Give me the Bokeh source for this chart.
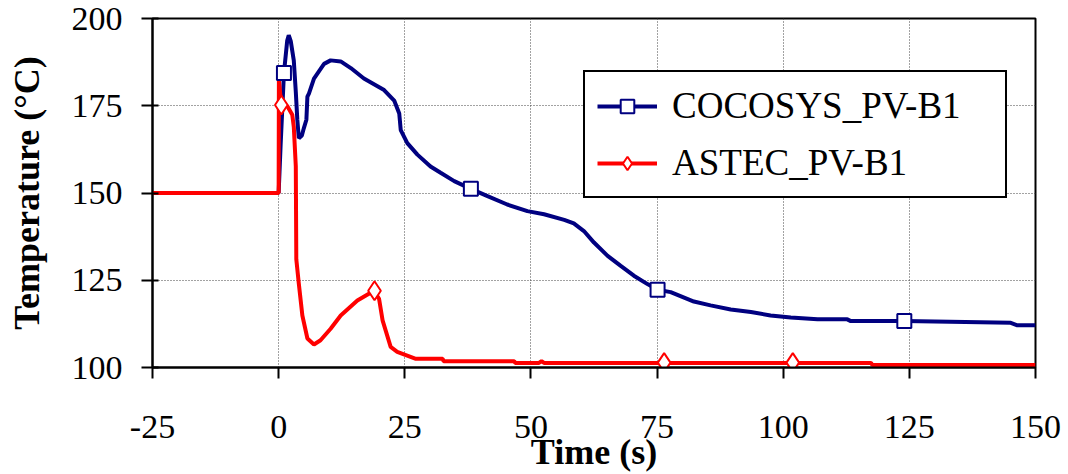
from bokeh.plotting import figure
from bokeh.models import FixedTicker, Range1d
from bokeh.embed import file_html
from bokeh.resources import INLINE

# ---- data ----
x_ticks = [-25, 0, 25, 50, 75, 100, 125, 150]
y_ticks = [100, 125, 150, 175, 200]

cocosys_t = [-25, 0, 0.4, 1.05, 1.7, 2.0, 2.4, 3.0, 3.4, 3.7,
             4.0, 4.6, 5.0, 5.5, 5.7, 6.0, 7.0, 9.0, 10.3, 12.3,
             14.3, 16.9, 20.9, 22.9, 23.9, 24.2, 25.5, 27.5, 30.1, 32.1,
             34.8, 38.1, 41.4, 45.3, 49.3, 52.6, 56.6, 58.5, 60.5, 62.5,
             65.2, 67.8, 70.4, 73.1, 75.1, 77.7, 82.3, 85.6, 89.6, 93.6,
             97.5, 101.5, 106.8, 112.7, 113.4, 124, 145.1, 146.4, 150]
cocosys_T = [150, 150, 164, 184.4, 193.7, 195.2, 193.5, 188, 179, 171,
             165.7, 166.5, 168.6, 171, 177.6, 178.5, 182.8, 187, 188, 187.7,
             185.8, 182.8, 179.5, 176.5, 172.8, 168, 164.3, 161, 157.6, 155.8,
             153.4, 151.2, 149.1, 146.7, 144.8, 143.9, 142.3, 141.3, 139.1, 135.8,
             132, 129.1, 126.3, 123.9, 122.3, 121.6, 118.9, 117.8, 116.6, 115.9,
             114.9, 114.3, 113.8, 113.8, 113.3, 113.3, 112.8, 112.1, 112.1]

astec_t = [-25, 0, 0.05, 0.53, 1.7, 2.7, 3.0, 3.4, 3.5, 4.0,
           4.7, 5.7, 7.0, 8.3, 10.3, 12.3, 15.6, 18.9, 19.9, 20.6,
           22.2, 23.5, 27.2, 32.5, 32.7, 46.7, 46.9, 51.6, 52.1, 52.6,
           117.4, 117.7, 150]
astec_T = [150, 150, 182.3, 175.2, 174.9, 172.4, 169, 157.6, 131, 124,
           114.9, 108.3, 106.6, 107.8, 111.1, 114.9, 119.2, 122, 119.7, 113.5,
           105.9, 104.5, 102.5, 102.5, 101.8, 101.8, 101.3, 101.3, 101.8, 101.3,
           101.3, 100.7, 100.7]

cocosys_marker_t = [1.05, 38.1, 75.1, 124.0]
cocosys_marker_T = [184.4, 151.2, 122.3, 113.3]
astec_marker_t = [0.53, 19.0, 76.4, 101.9]
astec_marker_T = [175.2, 122.0, 101.4, 101.4]

BLUE = "#000080"
RED = "#FF0000"
FONT = "'Liberation Serif', 'Times New Roman', serif"

p = figure(width=1068, height=474, output_backend="svg", toolbar_location=None,
           x_range=Range1d(-25, 150), y_range=Range1d(100, 200),
           min_border_left=152, min_border_right=33, min_border_top=18,
           min_border_bottom=105)

p.outline_line_color = "black"
p.outline_line_width = 2
p.outline_line_alpha = 1

for g in (p.xgrid, p.ygrid):
    g.grid_line_color = "#444444"
    g.grid_line_width = 1
    g.grid_line_dash = "1 2"
p.xgrid.ticker = FixedTicker(ticks=x_ticks)
p.ygrid.ticker = FixedTicker(ticks=y_ticks)

p.xaxis.ticker = FixedTicker(ticks=x_ticks)
p.yaxis.ticker = FixedTicker(ticks=y_ticks)
p.xaxis.major_label_overrides = {t: str(t) for t in x_ticks}
for ax in (p.xaxis[0], p.yaxis[0]):
    ax.axis_line_color = "black"
    ax.axis_line_width = 2
    ax.major_tick_line_color = "black"
    ax.major_tick_line_width = 2
    ax.minor_tick_line_color = None
    ax.major_label_text_font = FONT
    ax.major_label_text_font_size = "34px"
    ax.major_label_text_color = "black"
    ax.axis_label_text_font = FONT
    ax.axis_label_text_font_style = "bold"
    ax.axis_label_text_font_size = "36px"
    ax.axis_label_text_color = "black"

p.xaxis.major_tick_out = 11
p.xaxis.major_tick_in = 0
p.xaxis.major_label_standoff = 37
p.xaxis.axis_label = "Time (s)"
p.xaxis.axis_label_standoff = -9

p.yaxis.major_tick_out = 11
p.yaxis.major_tick_in = 6
p.yaxis.major_label_standoff = 19
p.yaxis.axis_label = "Temperature (°C)"
p.yaxis.axis_label_standoff = 22

# lines
p.line(cocosys_t, cocosys_T, line_color=BLUE, line_width=4, legend_label="COCOSYS_PV-B1")
p.line(astec_t, astec_T, line_color=RED, line_width=4, legend_label="ASTEC_PV-B1")
p.scatter(cocosys_marker_t, cocosys_marker_T, marker="square", size=14,
          fill_color="white", line_color=BLUE, line_width=2, legend_label="COCOSYS_PV-B1")
p.scatter(astec_marker_t, astec_marker_T, marker="diamond", size=19,
          fill_color="white", line_color=RED, line_width=2, legend_label="ASTEC_PV-B1")

lg = p.legend[0]
lg.location = (431, 169)
lg.label_text_font = FONT
lg.label_text_font_size = "37px"
lg.label_text_color = "black"
lg.glyph_width = 60
lg.glyph_height = 34
lg.label_height = 34
lg.label_width = 321
lg.label_standoff = 15
lg.spacing = 14
lg.padding = 12
lg.margin = 0
lg.border_line_color = "black"
lg.border_line_width = 2
lg.border_line_alpha = 1
lg.background_fill_color = "white"
lg.background_fill_alpha = 1

open("out.html", "w").write(file_html(p, INLINE))
